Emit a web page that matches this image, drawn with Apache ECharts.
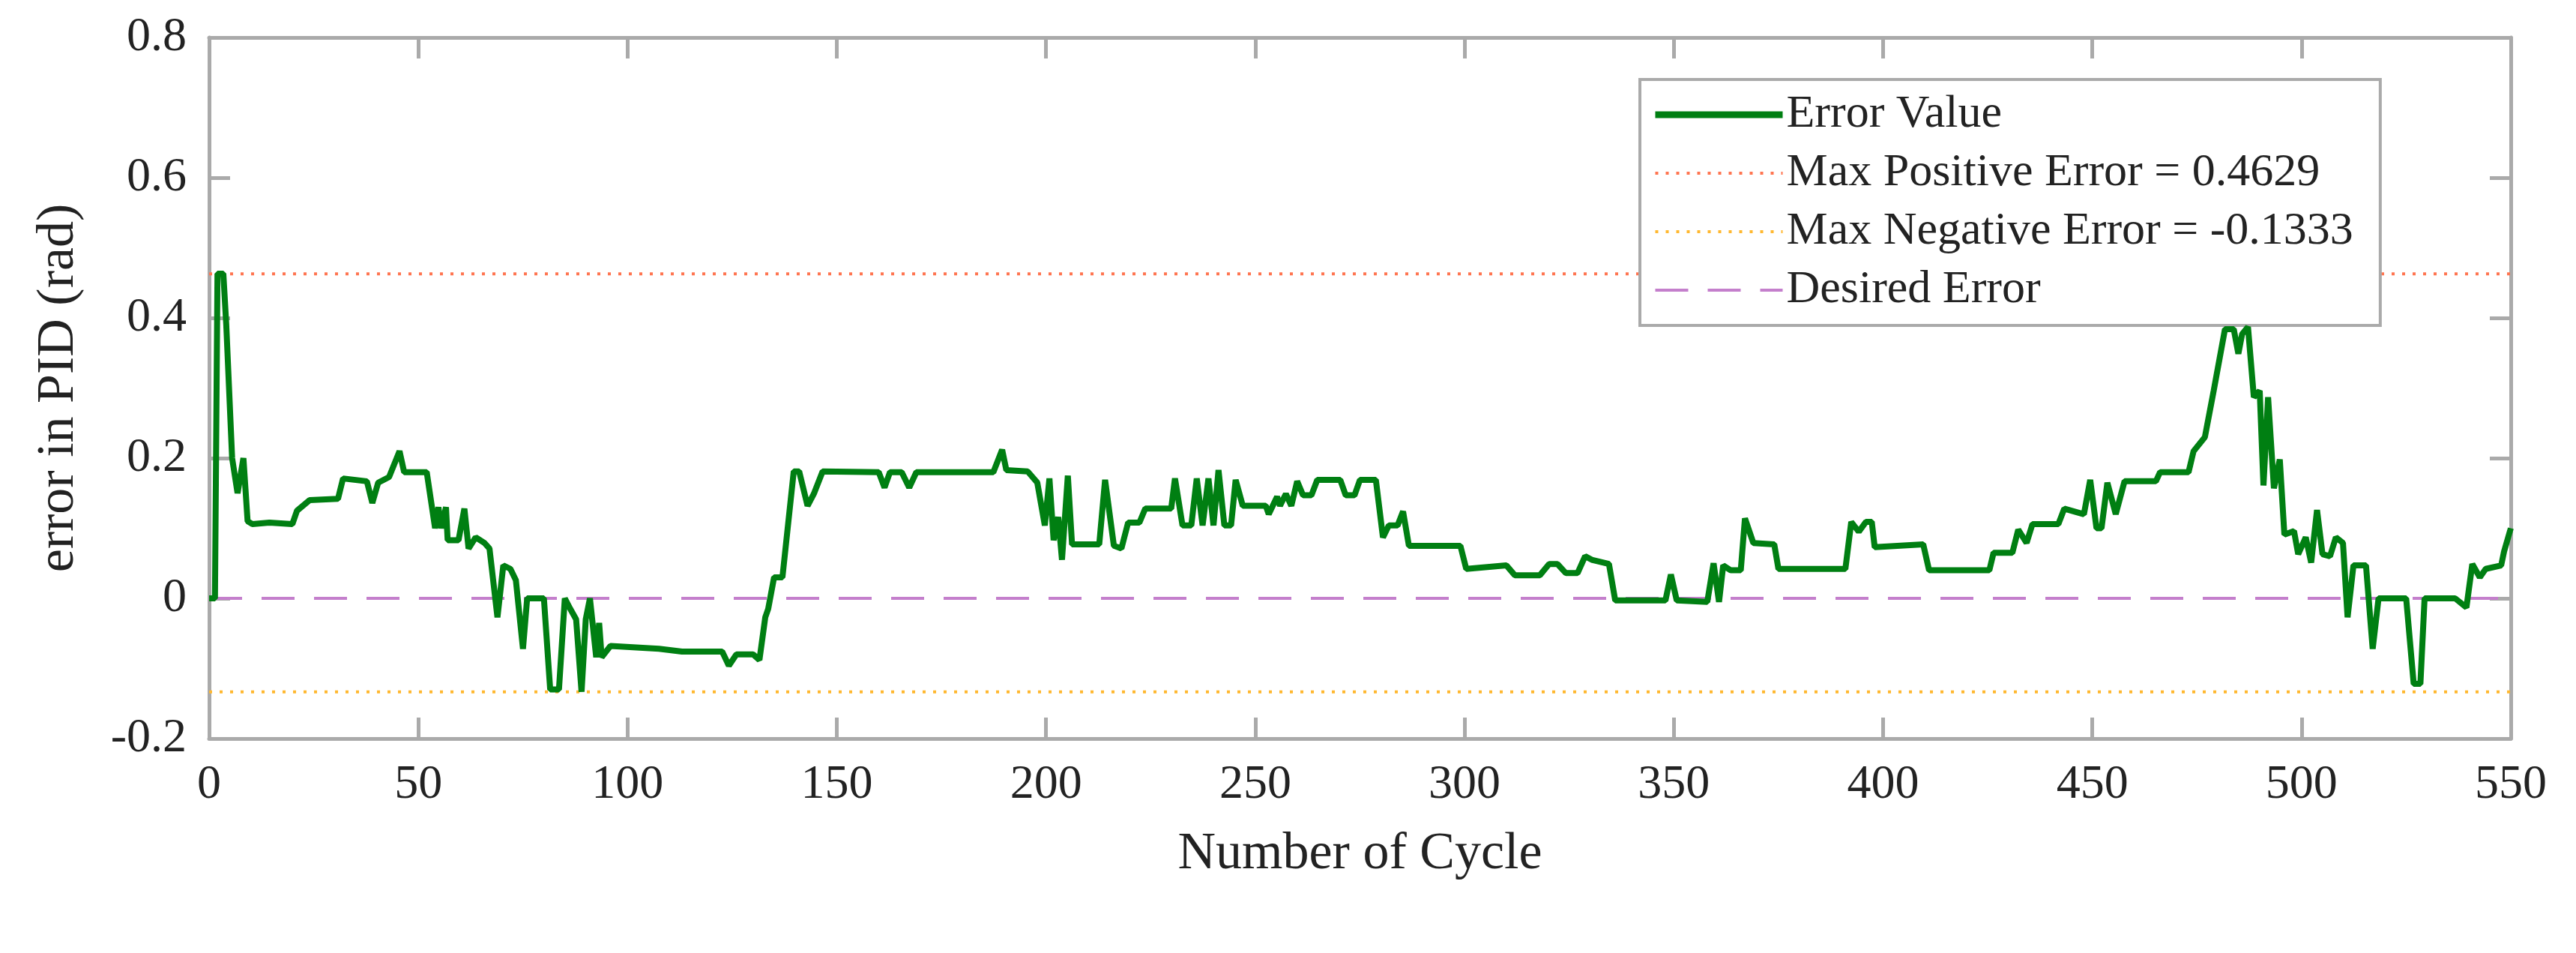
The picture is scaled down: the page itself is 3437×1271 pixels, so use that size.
<!DOCTYPE html>
<html><head><meta charset="utf-8">
<script src="https://cdn.jsdelivr.net/npm/echarts@6/dist/echarts.min.js"></script>
<style>html,body{margin:0;padding:0;background:#fff}#c{width:3437px;height:1271px}</style>
</head><body><div id="c"></div>
<script>
const cycles = [0,1.4,2,3.4,4.1,5.5,6.8,8.2,9.2,10.3,14.4,19.9,21,24,30.8,32,37.7,39,40.4,43,45.5,46.6,52,54,54.8,55.5,56.6,57,59.6,61,62,63.7,65.8,67,68.9,70.3,72,73.3,75,76,80,81.5,83.6,85,86.3,87.7,89,90,91,92.5,93.2,93.8,95.9,107.5,113,122.6,124.2,126,130,131.5,132.9,133.6,135,137,139.7,141,143,144.5,146.6,160,161.4,162.7,165.5,167.3,169,187.4,189.5,190.5,195.6,197.9,199.7,200.8,201.8,202.9,203.8,205.2,206.2,212.7,214.1,216.2,218,219.6,222.3,223.7,229.9,230.8,232.6,234.7,236,237.4,238.8,240,241.2,242.6,244.2,245.3,247,252.5,253.2,255.2,255.9,257.3,258.6,260,261.4,263.4,264.8,270.3,271.6,273.7,275,278.8,280.5,281.9,284,285.3,286.7,299,300.4,310,312,318,320.2,322.2,324.2,327,328.8,330.4,334.5,336,348,349.3,350.7,358,359.5,360.8,361.8,363.6,366,367,369,374,375,391,392.4,394.2,395.9,397.3,398,409.6,411,425.4,426.4,430.9,432.3,434.3,435.7,441.9,443.3,448,449.5,451,452.2,453.6,455.6,457.7,465.2,466.2,473,474.2,476.9,479,481.7,483.8,484.9,485.8,487.2,488.6,490,490.9,492,493.4,494.8,495.9,498.2,499.2,501,502.3,503.7,505,506.8,508.2,509.9,511,512.4,515.4,517,518.4,525,526.8,528.4,529.4,536.7,539.4,540.8,542.6,544,547.7,548.4,550];
const errors = [0,0,0.463,0.463,0.39,0.2,0.15,0.2,0.11,0.106,0.108,0.106,0.125,0.14,0.142,0.171,0.167,0.136,0.165,0.173,0.21,0.18,0.18,0.1,0.13,0.1,0.13,0.083,0.083,0.128,0.071,0.087,0.079,0.071,-0.027,0.047,0.042,0.026,-0.072,0,0,-0.13,-0.13,0,-0.015,-0.03,-0.1333,-0.03,0,-0.084,-0.035,-0.084,-0.068,-0.072,-0.076,-0.076,-0.096,-0.08,-0.08,-0.088,-0.027,-0.015,0.03,0.03,0.181,0.181,0.132,0.149,0.181,0.18,0.158,0.18,0.18,0.158,0.18,0.18,0.212,0.183,0.181,0.165,0.104,0.171,0.083,0.116,0.055,0.175,0.077,0.077,0.169,0.075,0.071,0.108,0.108,0.128,0.128,0.171,0.104,0.104,0.171,0.104,0.171,0.104,0.183,0.104,0.104,0.169,0.132,0.132,0.12,0.145,0.132,0.149,0.132,0.167,0.147,0.147,0.169,0.169,0.147,0.147,0.169,0.169,0.087,0.104,0.104,0.124,0.075,0.075,0.042,0.047,0.033,0.033,0.049,0.049,0.036,0.036,0.06,0.055,0.049,-0.003,-0.003,0.034,-0.003,-0.005,0.05,-0.005,0.047,0.04,0.04,0.114,0.079,0.077,0.042,0.042,0.109,0.095,0.109,0.109,0.073,0.077,0.04,0.04,0.065,0.065,0.098,0.079,0.106,0.106,0.128,0.12,0.169,0.1,0.1,0.165,0.12,0.167,0.167,0.18,0.18,0.21,0.23,0.296,0.384,0.384,0.349,0.377,0.387,0.287,0.296,0.161,0.287,0.157,0.198,0.091,0.096,0.063,0.087,0.051,0.126,0.063,0.06,0.087,0.079,-0.027,0.047,0.047,-0.072,0,0,-0.122,-0.122,0,0,-0.013,0.049,0.03,0.042,0.047,0.067,0.1];
const maxPos = 0.4629, maxNeg = -0.1333, desired = 0;
const seriesNames = ['Error Value','Max Positive Error = 0.4629','Max Negative Error = -0.1333','Desired Error'];
const xTicks = [0,50,100,150,200,250,300,350,400,450,500,550];
const yTicks = [-0.2,0,0.2,0.4,0.6,0.8];

const font = 'Liberation Serif';
const axisCommon = {
  axisLine:{show:true,onZero:false,lineStyle:{color:'#aaaaaa',width:5}},
  axisTick:{show:true,inside:true,length:28,lineStyle:{color:'#aaaaaa',width:5}},
  splitLine:{show:false}
};
const chart = echarts.init(document.getElementById('c'));
const flat = v => [[0,v],[550,v]];
chart.setOption({
  backgroundColor:'#fff',
  animation:false,
  grid:{left:279,right:87,top:50,bottom:286},
  legend:{
    orient:'vertical', left:2188, top:106,
    backgroundColor:'#fff', borderColor:'#aaaaaa', borderWidth:4,
    padding:[16,36,16,16], itemGap:16, itemWidth:170, itemHeight:20,
    itemStyle:{opacity:0},
    textStyle:{fontFamily:font,fontSize:62,color:'#222'},
    data:[
      {name:seriesNames[0],lineStyle:{width:9}},
      {name:seriesNames[1],lineStyle:{width:4}},
      {name:seriesNames[2],lineStyle:{width:4}},
      {name:seriesNames[3],lineStyle:{width:4}}
    ]
  },
  xAxis:[
    Object.assign({type:'value',min:0,max:550,interval:50,position:'bottom',
      name:'Number of Cycle',nameLocation:'middle',nameGap:120,
      nameTextStyle:{fontFamily:font,fontSize:70,color:'#222'},
      axisLabel:{fontFamily:font,fontSize:64,color:'#222',margin:30}},axisCommon),
    Object.assign({type:'value',min:0,max:550,interval:50,position:'top',axisLabel:{show:false}},axisCommon)
  ],
  yAxis:[
    Object.assign({type:'value',min:-0.2,max:0.8,interval:0.2,position:'left',
      name:'error in PID (rad)',nameLocation:'middle',nameGap:165,
      nameTextStyle:{fontFamily:font,fontSize:70,color:'#222'},
      axisLabel:{fontFamily:font,fontSize:64,color:'#222',margin:30,
        formatter:v=>{const r=Math.round(v*10)/10;return r===0?'0':String(r);}}},axisCommon),
    Object.assign({type:'value',min:-0.2,max:0.8,interval:0.2,position:'right',axisLabel:{show:false}},axisCommon)
  ],
  series:[
    {name:seriesNames[1],type:'line',showSymbol:false,symbol:'none',data:flat(maxPos),
      lineStyle:{color:'#ff7550',width:4,type:[4,10]},itemStyle:{color:'#ff7550'},z:2},
    {name:seriesNames[2],type:'line',showSymbol:false,symbol:'none',data:flat(maxNeg),
      lineStyle:{color:'#ffb830',width:4,type:[4,10]},itemStyle:{color:'#ffb830'},z:2},
    {name:seriesNames[3],type:'line',showSymbol:false,symbol:'none',data:flat(desired),
      lineStyle:{color:'#c47fcc',width:4,type:[44,26]},itemStyle:{color:'#c47fcc'},z:2},
    {name:seriesNames[0],type:'line',showSymbol:false,symbol:'none',
      data:cycles.map((c,i)=>[c,errors[i]]),
      lineStyle:{color:'#007f12',width:8},itemStyle:{color:'#007f12'},z:5}
  ]
});
</script></body></html>
